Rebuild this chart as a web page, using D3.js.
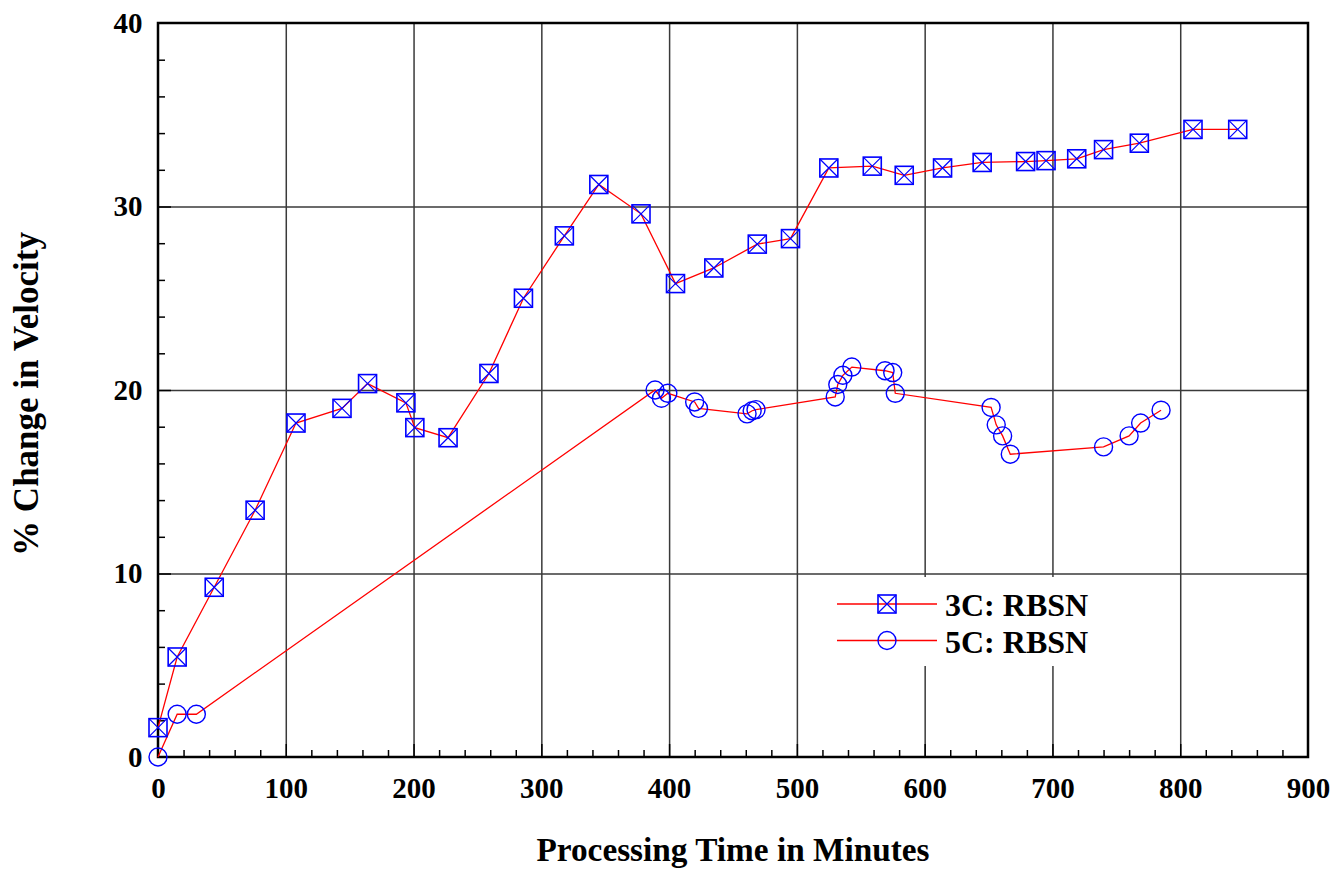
<!DOCTYPE html>
<html>
<head>
<meta charset="utf-8">
<script src="https://cdn.jsdelivr.net/npm/d3@7"></script>
<style>
    html, body { margin: 0; padding: 0; background: #fff; }
    svg { display: block; font-family: "Liberation Serif", "Times New Roman", serif; font-weight: bold; }
</style>
</head>
<body>
<div id="chart"></div>
<script>
// Series 3C: RBSN (squares)
const time3C = [0, 15, 44, 76, 108, 144, 164, 194, 201, 227, 259, 286, 318, 345, 378, 405, 435, 469, 495, 525,
    559, 584, 614, 645, 679, 695, 719, 740, 768, 810, 845];
const vel3C = [1.6, 5.45, 9.25, 13.45, 18.2, 19.0, 20.35, 19.3, 17.95, 17.4, 20.9, 25.0, 28.4, 31.2, 29.6, 25.8,
    26.65, 27.95, 28.25, 32.1, 32.2, 31.7, 32.1, 32.4, 32.45, 32.5, 32.6, 33.1, 33.45, 34.2, 34.2];

// Series 5C: RBSN (circles)
const time5C = [0, 15, 30, 389, 394, 399, 420, 423, 461, 465, 468, 530, 532, 536, 543, 569, 575, 577,
    652, 656, 661, 667, 740, 760, 769, 785];
const vel5C = [0, 2.33, 2.33, 20.0, 19.55, 19.82, 19.35, 19.0, 18.7, 18.87, 18.93, 19.62, 20.3, 20.8, 21.25,
    21.05, 20.95, 19.82, 19.05, 18.1, 17.5, 16.5, 16.9, 17.5, 18.2, 18.9];

const xTicks = [0, 100, 200, 300, 400, 500, 600, 700, 800, 900];
const yTicks = [0, 10, 20, 30, 40];
const seriesNames = ['3C: RBSN', '5C: RBSN'];

const margin = { top: 23, right: 28, bottom: 112, left: 158 };
const W = 1336, H = 869;
const width = W - margin.left - margin.right;
const height = H - margin.top - margin.bottom;

const svg = d3.select('#chart').append('svg')
    .attr('width', W)
    .attr('height', H);

const g = svg.append('g')
    .attr('transform', `translate(${margin.left},${margin.top})`);

const x = d3.scaleLinear().domain([0, 900]).range([0, width]);
const y = d3.scaleLinear().domain([0, 40]).range([height, 0]);

// Grid lines
g.append('g').attr('class', 'grid')
    .attr('transform', `translate(0,${height})`)
    .call(d3.axisBottom(x).tickValues(xTicks.slice(1, -1)).tickSize(-height).tickFormat(''));
g.append('g').attr('class', 'grid')
    .call(d3.axisLeft(y).tickValues(yTicks.slice(1, -1)).tickSize(-width).tickFormat(''));
g.selectAll('.grid .domain').remove();
g.selectAll('.grid .tick line').attr('stroke', '#3a3a3a').attr('stroke-width', 1.5);

// Minor + major ticks (inward)
const xMinor = d3.range(20, 900, 20).filter(v => v % 100 !== 0);
const yMinor = d3.range(2, 40, 2).filter(v => v % 10 !== 0);
g.append('g').attr('class', 'ticks')
    .attr('transform', `translate(0,${height})`)
    .call(d3.axisBottom(x).tickValues(xMinor).tickSize(-7).tickFormat(''));
g.append('g').attr('class', 'ticks')
    .attr('transform', `translate(0,${height})`)
    .call(d3.axisBottom(x).tickValues(xTicks.slice(1, -1)).tickSize(-13).tickFormat(''));
g.append('g').attr('class', 'ticks')
    .call(d3.axisLeft(y).tickValues(yMinor).tickSize(-7).tickFormat(''));
g.append('g').attr('class', 'ticks')
    .call(d3.axisLeft(y).tickValues(yTicks.slice(1, -1)).tickSize(-13).tickFormat(''));
g.selectAll('.ticks .domain').remove();
g.selectAll('.ticks .tick line').attr('stroke', '#000').attr('stroke-width', 1.5);

// Tick labels
const gx = g.append('g')
    .attr('transform', `translate(0,${height})`)
    .call(d3.axisBottom(x).tickValues(xTicks).tickSize(0).tickPadding(20.5));
const gy = g.append('g')
    .call(d3.axisLeft(y).tickValues(yTicks).tickSize(0).tickPadding(15.5));
[gx, gy].forEach(a => {
    a.select('.domain').remove();
    a.selectAll('.tick text')
        .attr('fill', '#000')
        .style('font-family', '"Liberation Serif", "Times New Roman", serif')
        .style('font-weight', 'bold')
        .style('font-size', '29px');
});

// Legend background (hides grid lines behind legend)
g.append('rect')
    .attr('x', 805 - margin.left).attr('y', 577 - margin.top)
    .attr('width', 310).attr('height', 89)
    .attr('fill', '#fff');

// Frame
g.append('rect')
    .attr('width', width).attr('height', height)
    .attr('fill', 'none').attr('stroke', '#000').attr('stroke-width', 2.5);

// Lines
const line = d3.line().x(d => x(d[0])).y(d => y(d[1]));
const data3C = time3C.map((t, i) => [t, vel3C[i]]);
const data5C = time5C.map((t, i) => [t, vel5C[i]]);

g.append('path').datum(data3C).attr('d', line)
    .attr('fill', 'none').attr('stroke', '#ff0000').attr('stroke-width', 1.3);
g.append('path').datum(data5C).attr('d', line)
    .attr('fill', 'none').attr('stroke', '#ff0000').attr('stroke-width', 1.3);

// Markers
const S = 9; // half size
function squareX(sel) {
    sel.append('rect').attr('x', -S).attr('y', -S).attr('width', 2 * S).attr('height', 2 * S)
        .attr('fill', 'none').attr('stroke', '#0000ff').attr('stroke-width', 1.6);
    sel.append('path').attr('d', `M${-S},${-S}L${S},${S}M${S},${-S}L${-S},${S}`)
        .attr('fill', 'none').attr('stroke', '#0000ff').attr('stroke-width', 1.2);
}
function circle(sel) {
    sel.append('circle').attr('r', S)
        .attr('fill', 'none').attr('stroke', '#0000ff').attr('stroke-width', 1.4);
}

g.selectAll('.m3c').data(data3C).enter().append('g')
    .attr('class', 'm3c')
    .attr('transform', d => `translate(${x(d[0])},${y(d[1])})`)
    .call(squareX);
g.selectAll('.m5c').data(data5C).enter().append('g')
    .attr('class', 'm5c')
    .attr('transform', d => `translate(${x(d[0])},${y(d[1])})`)
    .call(circle);

// Legend
const legend = svg.append('g');
[0, 1].forEach(i => {
    const ly = 604 + i * 36.5;
    legend.append('line').attr('x1', 837).attr('x2', 937).attr('y1', ly).attr('y2', ly)
        .attr('stroke', '#ff0000').attr('stroke-width', 1.5);
    const mk = legend.append('g').attr('transform', `translate(887,${ly})`);
    if (i === 0) squareX(mk); else circle(mk);
    legend.append('text').attr('x', 945).attr('y', ly + 12)
        .attr('fill', '#000').style('font-size', '32px')
        .text(seriesNames[i]);
});

// Axis titles
svg.append('text')
    .attr('x', margin.left + width / 2).attr('y', 861)
    .attr('text-anchor', 'middle').attr('fill', '#000')
    .style('font-size', '33.3px')
    .text('Processing Time in Minutes');

svg.append('text')
    .attr('transform', 'rotate(-90)')
    .attr('x', -394).attr('y', 38)
    .attr('text-anchor', 'middle').attr('fill', '#000')
    .style('font-size', '35px')
    .text('% Change in Velocity');
</script>
</body>
</html>
